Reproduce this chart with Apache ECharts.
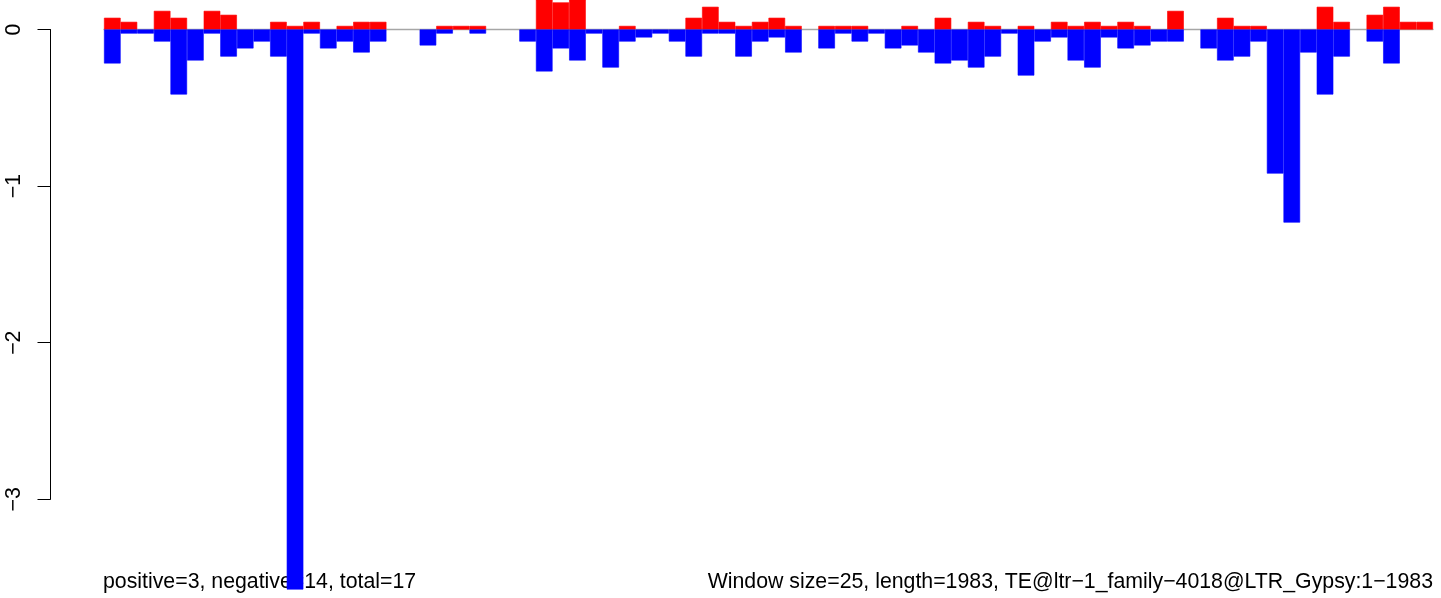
<!DOCTYPE html>
<html>
<head>
<meta charset="utf-8">
<script src="https://cdn.jsdelivr.net/npm/echarts@6/dist/echarts.min.js"></script>
<style>
html,body{margin:0;padding:0;background:#fff;}
#chart{width:1441px;height:598px;}
</style>
</head>
<body>
<div id="chart"></div>
<script>
// Window index (size 25) along TE@ltr-1_family-4018@LTR_Gypsy, length 1983
var windowSize = 25;
var seqLength = 1983;
var windowCount = 80;
var categories = [];
for (var k = 0; k < windowCount; k++) {
  categories.push((k * windowSize + 1) + '-' + Math.min((k + 1) * windowSize, seqLength));
}

// Positive (red) values per window
var positiveValues = [
  0.075, 0.049, 0, 0.119, 0.075, 0, 0.119, 0.094, 0, 0,
  0.049, 0.023, 0.049, 0, 0.023, 0.049, 0.049, 0, 0, 0,
  0.023, 0.023, 0.023, 0, 0, 0, 0.196, 0.173, 0.196, 0,
  0, 0.023, 0, 0, 0, 0.075, 0.145, 0.049, 0.023, 0.049,
  0.075, 0.023, 0, 0.023, 0.023, 0.023, 0, 0, 0.023, 0,
  0.075, 0, 0.049, 0.023, 0, 0.023, 0, 0.049, 0.023, 0.049,
  0.023, 0.049, 0.023, 0, 0.119, 0, 0, 0.075, 0.023, 0.023,
  0, 0, 0, 0.145, 0.049, 0, 0.094, 0.145, 0.049, 0.049
];

// Negative (blue) values per window
var negativeValues = [
  -0.217, -0.026, -0.026, -0.077, -0.415, -0.198, -0.026, -0.173, -0.121, -0.077,
  -0.173, -3.576, -0.026, -0.121, -0.077, -0.147, -0.077, 0, 0, -0.102,
  -0.026, 0, -0.026, 0, 0, -0.077, -0.268, -0.121, -0.198, -0.026,
  -0.243, -0.077, -0.051, -0.026, -0.077, -0.173, -0.026, -0.026, -0.173, -0.077,
  -0.051, -0.147, 0, -0.121, -0.026, -0.077, -0.026, -0.121, -0.102, -0.147,
  -0.217, -0.198, -0.243, -0.173, -0.026, -0.294, -0.077, -0.051, -0.198, -0.243,
  -0.051, -0.121, -0.102, -0.077, -0.077, 0, -0.121, -0.198, -0.173, -0.077,
  -0.92, -1.233, -0.147, -0.415, -0.173, 0, -0.077, -0.217, 0, 0
];

var yTicks = [0, -1, -2, -3];
var leftCaption = 'positive=3, negative=14, total=17';
var rightCaption = 'Window size=25, length=1983, TE@ltr\u22121_family\u22124018@LTR_Gypsy:1\u22121983';

var FONT = '"Liberation Sans", Arial, Helvetica, sans-serif';
var FS = 21.3;
var chart = echarts.init(document.getElementById('chart'), null, {renderer: 'canvas'});

var yMin = -3.6;
var yMax = 0.18838;

function nonZero(arr) {
  return arr.map(function (v) { return v === 0 ? '-' : v; });
}

chart.setOption({
  animation: false,
  backgroundColor: '#ffffff',
  grid: [
    {left: 104, right: 8, top: 0, bottom: 4.74, containLabel: false},
    {left: 50.5, width: 10, top: 29.5, height: 469.8, containLabel: false}
  ],
  xAxis: [
    {
      type: 'category', gridIndex: 0, data: categories,
      boundaryGap: true,
      axisLine: {show: true, onZero: true, lineStyle: {color: '#a6a6a6', width: 1.3}},
      axisTick: {show: false}, axisLabel: {show: false}, splitLine: {show: false}
    },
    {type: 'value', gridIndex: 1, show: false, min: 0, max: 1}
  ],
  yAxis: [
    {type: 'value', gridIndex: 0, min: yMin, max: yMax, show: false, splitLine: {show: false}},
    {
      type: 'value', gridIndex: 1, min: -3, max: 0, interval: 1,
      axisLine: {show: true, lineStyle: {color: '#000', width: 1}},
      axisTick: {show: true, length: 13, inside: false, lineStyle: {color: '#000', width: 1}},
      axisLabel: {
        show: true, rotate: 90, margin: 25.5, color: '#000',
        fontSize: FS, fontFamily: FONT,
        customValues: yTicks,
        formatter: function (v) { return String(v).replace('-', '\u2212'); }
      },
      splitLine: {show: false}
    }
  ],
  graphic: [
    {type: 'text', left: 103, top: 572, z: 0,
      style: {text: leftCaption, fontSize: FS, fontFamily: FONT, fill: '#000'}},
    {type: 'text', right: 8, top: 572, z: 0,
      style: {text: rightCaption, fontSize: FS, fontFamily: FONT, fill: '#000'}}
  ],
  series: [
    {
      name: 'positive', type: 'bar', xAxisIndex: 0, yAxisIndex: 0,
      data: nonZero(positiveValues), barGap: '-100%', barCategoryGap: '0%',
      itemStyle: {color: '#ff0000', borderColor: '#ff0000', borderWidth: 0.6}, z: 5, clip: true
    },
    {
      name: 'negative', type: 'bar', xAxisIndex: 0, yAxisIndex: 0,
      data: nonZero(negativeValues), barGap: '-100%', barCategoryGap: '0%',
      itemStyle: {color: '#0000ff', borderColor: '#0000ff', borderWidth: 0.6}, z: 5, clip: true
    }
  ]
});
</script>
</body>
</html>
